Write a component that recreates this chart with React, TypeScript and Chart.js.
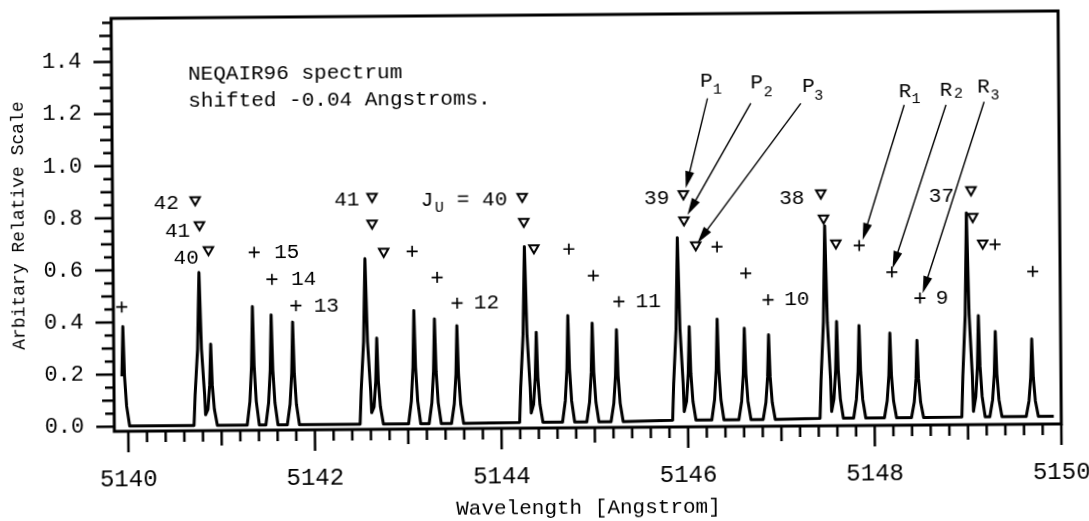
import React, { useEffect, useRef } from "react";
import { Chart, registerables } from "chart.js";

Chart.register(...registerables);

const FONT = "'Liberation Mono', 'Courier New', monospace";

// ---- spectrum: individual lines ----
const peakCenters = [
  5139.95, 5140.77, 5140.89, 5141.34, 5141.54, 5141.77, 5142.55, 5142.67, 5143.07, 5143.29,
  5143.53, 5144.26, 5144.38, 5144.72, 5144.98, 5145.24, 5145.9, 5146.02, 5146.32, 5146.61,
  5146.87, 5147.48, 5147.6, 5147.84, 5148.17, 5148.46, 5149.0, 5149.12, 5149.3, 5149.69,
];
const peakHeights = [
  0.384, 0.589, 0.314, 0.457, 0.424, 0.396, 0.637, 0.332, 0.437, 0.404,
  0.377, 0.679, 0.349, 0.413, 0.383, 0.357, 0.708, 0.367, 0.395, 0.359,
  0.333, 0.75, 0.382, 0.366, 0.336, 0.307, 0.795, 0.4, 0.339, 0.309,
];
const peakBases = [
  0.002, 0.002, 0.002, 0.002, 0.002, 0.002, 0.002, 0.002, 0.002, 0.002,
  0.002, 0.004, 0.004, 0.004, 0.004, 0.004, 0.008, 0.008, 0.008, 0.008,
  0.008, 0.011, 0.011, 0.011, 0.011, 0.011, 0.012, 0.012, 0.012, 0.012,
];
// relative width of each line (the tall ones are blended P1+P2 pairs)
const peakWidths = [
  1, 1.5, 1, 1, 1, 1, 1.5, 1, 1, 1,
  1, 1.5, 1, 1, 1, 1, 1.5, 1, 1, 1,
  1, 1.5, 1, 1, 1, 1, 1.5, 1, 1, 1,
];
// dip between a line and the next one when the two are blended (null = none)
const dipAfterPeak = [
  null, 0.043, null, null, null, null, 0.046, null, null, null,
  null, 0.04, null, null, null, null, 0.041, null, null, null,
  null, 0.037, null, null, null, null, 0.033, null, null, null,
];
// shape of one line (offset in Angstrom, fraction of its height)
const lineProfileDx = [-0.065, -0.034, -0.014, 0, 0.014, 0.034, 0.065];
const lineProfileFrac = [0, 0.2, 0.5, 1, 0.5, 0.2, 0];
const spectrumStart = 5139.93;
const spectrumEnd = 5149.92;
const spectrumEndValue = 0.012;

// ---- markers ----
const triangleX = [
  5140.736, 5140.78, 5140.874, 5142.632, 5142.63, 5142.752, 5144.241, 5144.256, 5144.362,
  5145.969, 5145.973, 5146.097, 5147.442, 5147.469, 5147.599, 5149.052, 5149.068, 5149.173,
];
const triangleY = [
  0.868, 0.772, 0.676, 0.875, 0.773, 0.664, 0.871, 0.775, 0.673,
  0.876, 0.776, 0.68, 0.875, 0.779, 0.683, 0.883, 0.78, 0.678,
];
const plusX = [
  5139.94, 5141.364, 5141.552, 5141.807, 5143.057, 5143.323, 5143.535, 5144.737, 5144.997,
  5145.269, 5146.325, 5146.631, 5146.868, 5147.849, 5148.197, 5148.496, 5149.305, 5149.707,
];
const plusY = [
  0.459, 0.665, 0.561, 0.459, 0.664, 0.563, 0.464, 0.668, 0.565,
  0.465, 0.672, 0.57, 0.467, 0.673, 0.57, 0.469, 0.673, 0.568,
];

// ---- labels ----
const numberLabels = ["42", "41", "40", "15", "14", "13", "41", "12", "11", "39", "10", "38", "9", "37"];
const numberLabelX = [
  5140.425, 5140.545, 5140.634, 5141.713, 5141.893, 5142.133, 5142.362, 5143.85, 5145.583,
  5145.683, 5147.176, 5147.131, 5148.732, 5148.735,
];
const numberLabelY = [0.856, 0.747, 0.645, 0.662, 0.558, 0.457, 0.863, 0.463, 0.464, 0.861, 0.466, 0.856, 0.469, 0.858];

const jLabelParts = ["J", "U", "= 40"];
const jLabelX = [5143.222, 5143.353, 5143.811];
const jLabelY = [0.861, 0.83, 0.859];

const branchLetters = ["P", "P", "P", "R", "R", "R"];
const branchSubs = ["1", "2", "3", "1", "2", "3"];
const branchX = [5146.226, 5146.763, 5147.318, 5148.352, 5148.792, 5149.195];
const branchY = [1.309, 1.301, 1.287, 1.262, 1.267, 1.279];
const branchSubX = [5146.342, 5146.887, 5147.429, 5148.47, 5148.926, 5149.317];
const branchSubY = [1.274, 1.263, 1.248, 1.234, 1.251, 1.243];

const arrowFromX = [5146.235, 5146.699, 5147.235, 5148.343, 5148.791, 5149.2];
const arrowFromY = [1.242, 1.222, 1.22, 1.211, 1.21, 1.221];
const arrowToX = [5145.995, 5146.011, 5146.115, 5147.886, 5148.205, 5148.525];
const arrowToY = [0.898, 0.796, 0.687, 0.694, 0.585, 0.488];

const noteLines = ["NEQAIR96 spectrum", "shifted -0.04 Angstroms."];
const noteX = 5140.67;
const noteY = [1.351, 1.245];

const xTickLabels = ["5140", "5142", "5144", "5146", "5148", "5150"];
const yTickLabels = ["0.0", "0.2", "0.4", "0.6", "0.8", "1.0", "1.2", "1.4"];

function buildSpectrum() {
  const pts: { x: number; y: number }[] = [];
  const last = lineProfileDx.length - 1;
  for (let i = 0; i < peakCenters.length; i++) {
    const c = peakCenters[i];
    const h = peakHeights[i];
    const b = peakBases[i];
    const w = peakWidths[i];
    const prevClose = i > 0 && dipAfterPeak[i - 1] !== null;
    const nextClose = dipAfterPeak[i] !== null;
    for (let j = 0; j <= last; j++) {
      if (j === 0 && prevClose) continue;
      if (j === last && nextClose) {
        pts.push({ x: (c + peakCenters[i + 1]) / 2, y: dipAfterPeak[i] as number });
        continue;
      }
      const x = c + lineProfileDx[j] * (j === 0 || j === last ? 1 : w);
      if (x < spectrumStart) continue;
      pts.push({ x, y: b + lineProfileFrac[j] * (h - b) });
    }
  }
  pts.push({ x: spectrumEnd, y: spectrumEndValue });
  return pts;
}

export default function App() {
  const ref = useRef<HTMLCanvasElement>(null);

  useEffect(() => {
    const canvas = ref.current;
    if (!canvas) return;

    const decor = {
      id: "decor",
      afterDraw(chart: any) {
        const ctx = chart.ctx as CanvasRenderingContext2D;
        const xs = chart.scales.x;
        const ys = chart.scales.y;
        const a = chart.chartArea;
        ctx.save();
        ctx.strokeStyle = "#000";
        ctx.fillStyle = "#000";
        // frame
        ctx.lineWidth = 3;
        ctx.strokeRect(a.left, a.top, a.right - a.left, a.bottom - a.top);
        // y ticks (every 0.05)
        ctx.lineWidth = 2.5;
        for (let k = 0; k <= 31; k++) {
          const py = ys.getPixelForValue(k * 0.05);
          const len = k % 4 === 0 ? 18 : k % 2 === 0 ? 12 : 9;
          ctx.beginPath();
          ctx.moveTo(a.left, py);
          ctx.lineTo(a.left - len, py);
          ctx.stroke();
        }
        // x ticks (every 0.2)
        for (let k = 0; k <= 50; k++) {
          const px = xs.getPixelForValue(5140 + k * 0.2);
          const len = k % 10 === 0 ? 21 : k % 5 === 0 ? 15 : 11;
          ctx.beginPath();
          ctx.moveTo(px, a.bottom);
          ctx.lineTo(px, a.bottom + len);
          ctx.stroke();
        }

        // arrows
        ctx.lineWidth = 1.4;
        for (let i = 0; i < arrowFromX.length; i++) {
          const x1 = xs.getPixelForValue(arrowFromX[i]);
          const y1 = ys.getPixelForValue(arrowFromY[i]);
          const x2 = xs.getPixelForValue(arrowToX[i]);
          const y2 = ys.getPixelForValue(arrowToY[i]);
          const dx = x2 - x1;
          const dy = y2 - y1;
          const L = Math.hypot(dx, dy);
          const ux = dx / L;
          const uy = dy / L;
          const head = 17;
          const half = 4.5;
          ctx.beginPath();
          ctx.moveTo(x1, y1);
          ctx.lineTo(x2 - ux * head * 0.8, y2 - uy * head * 0.8);
          ctx.stroke();
          ctx.beginPath();
          ctx.moveTo(x2, y2);
          ctx.lineTo(x2 - ux * head - uy * half, y2 - uy * head + ux * half);
          ctx.lineTo(x2 - ux * head + uy * half, y2 - uy * head - ux * half);
          ctx.closePath();
          ctx.fill();
        }

        // text
        ctx.textBaseline = "middle";
        ctx.textAlign = "center";
        ctx.font = `21px ${FONT}`;
        for (let i = 0; i < numberLabels.length; i++) {
          ctx.fillText(numberLabels[i], xs.getPixelForValue(numberLabelX[i]), ys.getPixelForValue(numberLabelY[i]));
        }
        for (let i = 0; i < jLabelParts.length; i++) {
          ctx.font = i === 1 ? `15px ${FONT}` : `21px ${FONT}`;
          ctx.fillText(jLabelParts[i], xs.getPixelForValue(jLabelX[i]), ys.getPixelForValue(jLabelY[i]));
        }
        for (let i = 0; i < branchLetters.length; i++) {
          ctx.font = `21px ${FONT}`;
          ctx.fillText(branchLetters[i], xs.getPixelForValue(branchX[i]), ys.getPixelForValue(branchY[i]));
          ctx.font = `15px ${FONT}`;
          ctx.fillText(branchSubs[i], xs.getPixelForValue(branchSubX[i]), ys.getPixelForValue(branchSubY[i]));
        }
        ctx.textAlign = "left";
        ctx.font = `21px ${FONT}`;
        for (let i = 0; i < noteLines.length; i++) {
          ctx.fillText(noteLines[i], xs.getPixelForValue(noteX), ys.getPixelForValue(noteY[i]));
        }
        ctx.restore();
      },
    };

    const chart = new Chart(canvas, {
      type: "scatter",
      data: {
        datasets: [
          {
            type: "line",
            data: buildSpectrum(),
            borderColor: "#000",
            borderWidth: 3,
            pointRadius: 0,
            tension: 0,
            fill: false,
            borderJoinStyle: "round",
            order: 3,
          } as any,
          {
            data: triangleX.map((x, i) => ({ x, y: triangleY[i] })),
            pointStyle: "triangle",
            rotation: 180,
            pointRadius: 5.4,
            borderWidth: 2,
            borderColor: "#000",
            backgroundColor: "#fff",
            order: 1,
          } as any,
          {
            data: plusX.map((x, i) => ({ x, y: plusY[i] })),
            pointStyle: "cross",
            pointRadius: 5.5,
            borderWidth: 1.7,
            borderColor: "#000",
            backgroundColor: "#000",
            order: 2,
          } as any,
        ],
      },
      options: {
        responsive: false,
        animation: false,
        devicePixelRatio: 1,
        events: [],
        layout: { padding: { left: 0, right: 29, top: 15, bottom: 0 } },
        plugins: { legend: { display: false }, tooltip: { enabled: false } },
        scales: {
          x: {
            type: "linear",
            min: 5139.85,
            max: 5150,
            afterFit(s: any) {
              s.height = 93;
              s.paddingLeft = 0;
              s.paddingRight = 0;
            },
            grid: { display: false, drawTicks: false },
            border: { display: false },
            ticks: {
              stepSize: 2,
              includeBounds: false,
              autoSkip: false,
              maxRotation: 0,
              padding: 34,
              color: "#000",
              font: { family: FONT, size: 24 },
              callback: (v: any) => {
                const s = String(Math.round(Number(v)));
                return xTickLabels.includes(s) ? s : "";
              },
            },
            title: {
              display: true,
              text: "Wavelength [Angstrom]",
              color: "#000",
              font: { family: FONT, size: 21 },
              padding: { top: 0, bottom: 0 },
            },
          },
          y: {
            type: "linear",
            min: -0.018,
            max: 1.567,
            afterFit(s: any) {
              s.width = 113;
              s.paddingTop = 0;
              s.paddingBottom = 0;
            },
            grid: { display: false, drawTicks: false },
            border: { display: false },
            ticks: {
              stepSize: 0.2,
              includeBounds: false,
              autoSkip: false,
              padding: 30,
              color: "#000",
              font: { family: FONT, size: 22 },
              callback: (v: any) => {
                const s = Number(v).toFixed(1);
                return yTickLabels.includes(s) ? s : "";
              },
            },
            title: {
              display: true,
              text: "Arbitary Relative Scale",
              color: "#000",
              font: { family: FONT, size: 18 },
              padding: { top: 8, bottom: 0 },
            },
          },
        },
      },
      plugins: [decor],
    } as any);

    return () => chart.destroy();
  }, []);

  return (
    <div
      style={{
        position: "absolute",
        left: 0,
        top: 0,
        width: 1089,
        height: 521,
        background: "#fff",
        transform: "rotate(-0.45deg)",
      }}
    >
      <canvas ref={ref} width={1089} height={521} style={{ display: "block" }} />
    </div>
  );
}
